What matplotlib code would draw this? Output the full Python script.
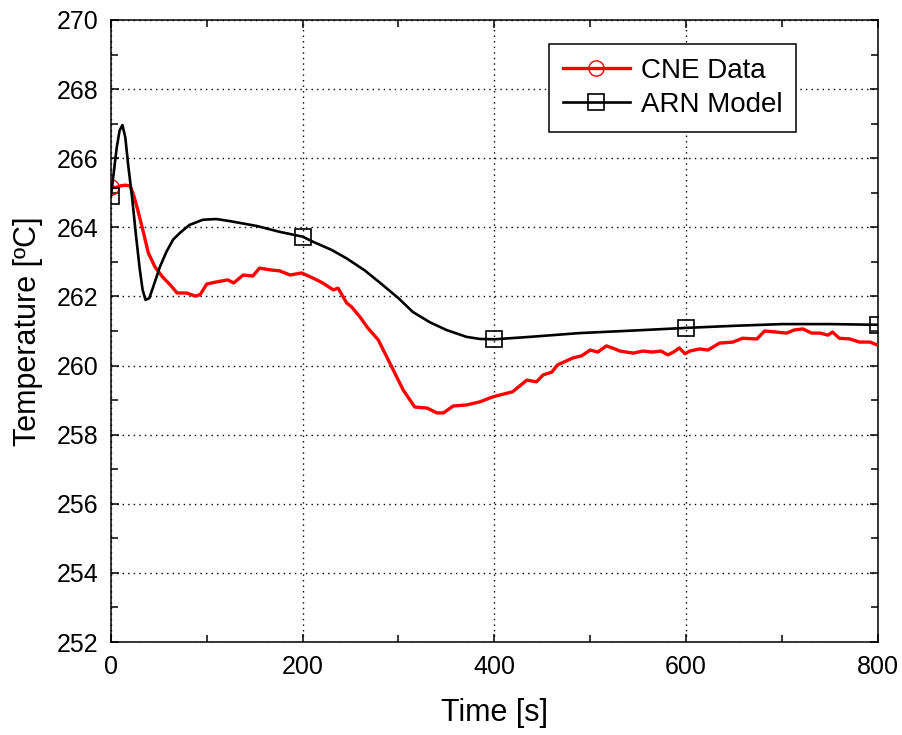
import matplotlib
matplotlib.use("Agg")
import matplotlib.pyplot as plt
from matplotlib.ticker import MultipleLocator

plt.rcParams["font.family"] = ["Liberation Sans", "DejaVu Sans"]

cne_t = [0, 5, 10, 15, 20, 24, 28, 34, 39, 46, 54, 62, 69, 79, 88, 93, 100, 110,
         122, 128, 138, 148, 155, 166, 176, 187, 199, 211, 221, 232, 237, 246, 251,
         260, 268, 279, 293, 305, 317, 330, 340, 347, 357, 371, 385, 398, 406, 419,
         434, 444, 451, 460, 466, 482, 491, 500, 508, 517, 526, 531, 545, 555, 565,
         574, 581, 587, 593, 599, 604, 614, 623, 635, 649, 659, 674, 682, 694, 705,
         713, 722, 731, 740, 748, 753, 760, 771, 781, 792, 800]
cne_temp = [265.18, 265.15, 265.2, 265.22, 265.2, 264.9, 264.5, 263.84, 263.26,
            262.85, 262.56, 262.33, 262.1, 262.1, 262.01, 262.05, 262.36, 262.42,
            262.48, 262.39, 262.62, 262.59, 262.82, 262.77, 262.74, 262.62, 262.68,
            262.53, 262.39, 262.19, 262.24, 261.81, 261.7, 261.4, 261.09, 260.74,
            259.96, 259.29, 258.8, 258.77, 258.63, 258.63, 258.83, 258.86, 258.95,
            259.09, 259.15, 259.24, 259.58, 259.53, 259.73, 259.81, 260.02, 260.22,
            260.28, 260.45, 260.39, 260.57, 260.48, 260.42, 260.36, 260.42, 260.39,
            260.42, 260.31, 260.39, 260.51, 260.34, 260.42, 260.48, 260.45, 260.65,
            260.68, 260.79, 260.77, 261.0, 260.97, 260.94, 261.03, 261.06, 260.94,
            260.94, 260.88, 260.97, 260.79, 260.77, 260.68, 260.68, 260.59]

# ARN model output
arn_t = [0, 3, 6, 9, 12, 15, 18, 22, 26, 30, 33, 36, 40, 44, 51, 58, 65, 72, 82,
         96, 110, 124, 152, 176, 200, 211, 230, 246, 265, 281, 300, 315, 333, 350,
         371, 385, 400, 437, 489, 550, 600, 650, 700, 750, 800]
arn_temp = [264.9, 265.6, 266.3, 266.8, 266.96, 266.6, 265.8, 264.88, 263.8, 262.8,
            262.2, 261.9, 261.95, 262.27, 262.85, 263.3, 263.65, 263.84, 264.07,
            264.22, 264.24, 264.18, 264.04, 263.87, 263.73, 263.58, 263.35, 263.1,
            262.75, 262.39, 261.95, 261.55, 261.25, 261.03, 260.83, 260.77, 260.76,
            260.83, 260.94, 261.02, 261.09, 261.15, 261.2, 261.2, 261.18]
arn_marker_times = [0, 200, 400, 600, 800]

fig = plt.figure(figsize=(9.02, 7.35), dpi=100)
ax = fig.add_axes([0.123, 0.1265, 0.850, 0.8463])

ax.plot(cne_t, cne_temp, color="red", lw=2.4, marker="o", markevery=[0],
        ms=11, mfc="none", mec="red", mew=1.0, label="CNE Data", zorder=3)
ax.plot(arn_t, arn_temp, color="black", lw=1.9, marker="s",
        markevery=[arn_t.index(t) for t in arn_marker_times],
        ms=12, mfc="none", mec="black", mew=1.2, label="ARN Model", zorder=4)

ax.set_xlim(0, 800)
ax.set_ylim(252, 270)
ax.xaxis.set_major_locator(MultipleLocator(200))
ax.xaxis.set_minor_locator(MultipleLocator(100))
ax.yaxis.set_major_locator(MultipleLocator(2))
ax.yaxis.set_minor_locator(MultipleLocator(1))
ax.tick_params(which="both", direction="in", top=True, right=True,
               labelsize=18, width=1.1, pad=9)
ax.tick_params(which="major", length=6)
ax.tick_params(which="minor", length=5)
ax.grid(True, which="major", color="black", ls=(0, (1, 3)), lw=1.0)
for sp in ax.spines.values():
    sp.set_linewidth(1.1)

ax.set_xlabel("Time [s]", fontsize=22, labelpad=14)
ax.set_ylabel("Temperature [ºC]", fontsize=22, labelpad=10)

leg = ax.legend(loc="upper right", bbox_to_anchor=(0.894, 0.962), fontsize=20,
                frameon=True, fancybox=False, edgecolor="black", framealpha=1,
                handlelength=2.4, borderpad=0.5, labelspacing=0.3,
                handletextpad=0.4, borderaxespad=0)
leg.get_frame().set_linewidth(1.1)

fig.savefig("out.png", dpi=100)
